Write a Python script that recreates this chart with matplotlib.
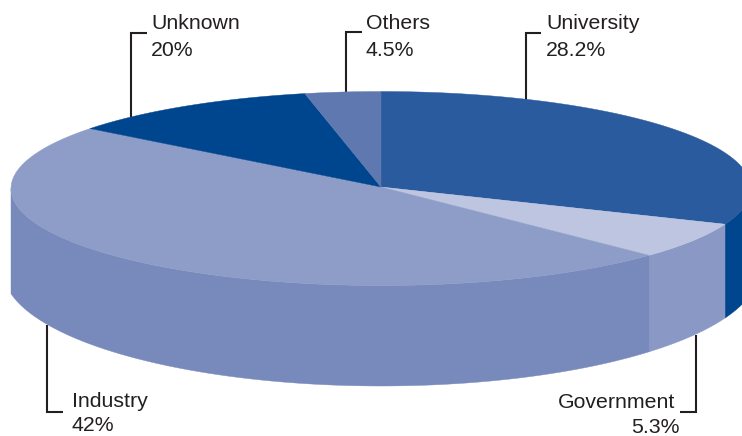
import numpy as np
import matplotlib
matplotlib.use('Agg')
import matplotlib.pyplot as plt

# slice order runs clockwise from the top of the pie
names = ['University', 'Government', 'Industry', 'Unknown', 'Others']
labels = ['28.2%', '5.3%', '42%', '20%', '4.5%']
# share of the drawn ellipse (differs from the printed labels)
shares = [31.0, 6.1, 48.5, 11.1, 3.3]

top_colors = ['#2a5b9e', '#bdc5e1', '#8e9dc8', '#00468f', '#5f78b0']
side_colors = ['#00468f', '#8a98c6', '#7889bc', '#00468f', '#5f78b0']

# geometry, in pixels of the 742x436 picture
cx, cy, rx, ry = 381, 188.5, 370, 97
hub_y = 187
bot_cy, bot_rx, bot_ry = 270, 378, 116

leaders = [
    [(131, 117), (131, 33.5), (147, 33.5)],
    [(346, 92), (346, 32.5), (362, 32.5)],
    [(526, 100), (526, 33), (541, 33)],
    [(696, 335), (696, 412), (680, 412)],
    [(47, 325), (47, 412), (63, 412)],
]
# name and value anchors: (x, y, ha)
name_pos = [(546, 29, 'left'), (675, 408, 'right'), (72, 407, 'left'), (151, 29, 'left'), (366, 29, 'left')]
value_pos = [(546, 56, 'left'), (680, 433, 'right'), (72, 431, 'left'), (151, 56, 'left'), (366, 56, 'left')]
text_color = '#231f20'

plt.rcParams['font.family'] = ['Liberation Sans', 'DejaVu Sans']

fig = plt.figure(figsize=(7.42, 4.36), dpi=100)
ax = fig.add_axes([0, 0, 1, 1])
ax.set_xlim(0, 742)
ax.set_ylim(436, 0)
ax.axis('off')


def arc(a0, a1):
    # angles measured clockwise from the top, in degrees
    t = np.radians(np.linspace(a0, a1, 200))
    return cx + rx * np.sin(t), cy - ry * np.cos(t)


def lower_edge(x):
    d = np.clip((x - cx) / bot_rx, -1, 1)
    return bot_cy + bot_ry * np.sqrt(1 - d ** 2)


edges = np.concatenate([[0], np.cumsum(shares)]) * 3.6

# side walls: only the part of each slice on the front half shows
for i in range(len(names)):
    a0, a1 = max(edges[i], 90), min(edges[i + 1], 270)
    if a1 <= a0:
        continue
    x, y = arc(a0, a1)
    xs = np.concatenate([x, x[::-1]])
    ys = np.concatenate([y, lower_edge(x[::-1])])
    ax.fill(xs, ys, color=side_colors[i], lw=0.3, zorder=2)

# top face
for i in range(len(names)):
    x, y = arc(edges[i], edges[i + 1])
    xs = np.concatenate([[cx], x])
    ys = np.concatenate([[hub_y], y])
    ax.fill(xs, ys, color=top_colors[i], lw=0.3, zorder=3)

for pts in leaders:
    p = np.array(pts)
    ax.plot(p[:, 0], p[:, 1], color=text_color, lw=1.5, solid_joinstyle='miter',
            solid_capstyle='butt', zorder=1)

for i in range(len(names)):
    x, y, ha = name_pos[i]
    ax.text(x, y, names[i], color=text_color, fontsize=15.3, ha=ha, va='baseline')
    x, y, ha = value_pos[i]
    ax.text(x, y, labels[i], color=text_color, fontsize=15.3, ha=ha, va='baseline')

fig.savefig('out.png', dpi=100)
